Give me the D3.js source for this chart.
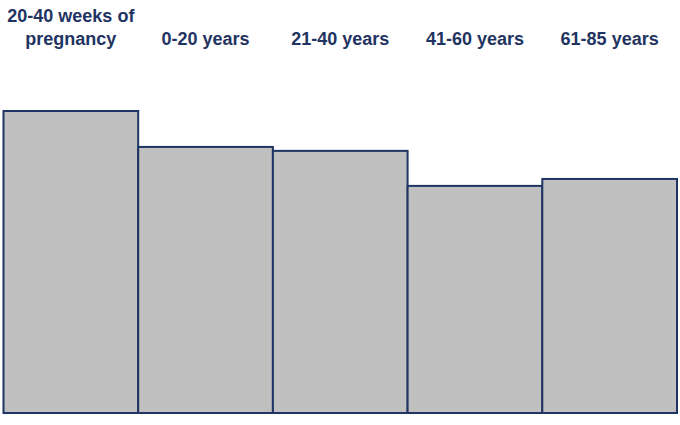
<!DOCTYPE html>
<html>
<head>
<meta charset="utf-8">
<script src="https://cdn.jsdelivr.net/npm/d3@7"></script>
<style>
html,body{margin:0;padding:0;background:#fff;}
svg{display:block;}
</style>
</head>
<body>
<svg id="chart" width="680" height="425"></svg>
<script>
const categories = ["20-40 weeks of\npregnancy", "0-20 years", "21-40 years", "41-60 years", "61-85 years"];
const values = [100, 88.1, 86.8, 75.2, 77.5];

const svg = d3.select("#chart");
const margin = {left: 3.5, right: 3, top: 111, bottom: 12};
const W = 680, H = 425;

const x = d3.scaleBand().domain(categories).range([margin.left, W - margin.right]).padding(0);
const y = d3.scaleLinear().domain([0, 100]).range([H - margin.bottom, margin.top]);

svg.selectAll("rect.bar").data(values).join("rect")
  .attr("class", "bar")
  .attr("x", (d, i) => x(categories[i]))
  .attr("y", d => y(d))
  .attr("width", x.bandwidth())
  .attr("height", d => y(0) - y(d))
  .attr("fill", "#c0c0c0")
  .attr("stroke", "#1f3563")
  .attr("stroke-width", 2);

const labels = svg.selectAll("text.lab").data(categories).join("text")
  .attr("class", "lab")
  .attr("x", d => x(d) + x.bandwidth() / 2)
  .attr("y", 44.5)
  .attr("text-anchor", "middle")
  .attr("font-family", "Liberation Sans, Arial, sans-serif")
  .attr("font-weight", "bold")
  .attr("font-size", 18)
  .attr("fill", "#1f3462");

labels.each(function(d) {
  const lines = d.split("\n");
  const t = d3.select(this);
  lines.forEach((ln, i) => {
    t.append("tspan")
      .attr("x", x(d) + x.bandwidth() / 2)
      .attr("y", 44.5 - (lines.length - 1 - i) * 23)
      .text(ln);
  });
});
</script>
</body>
</html>
